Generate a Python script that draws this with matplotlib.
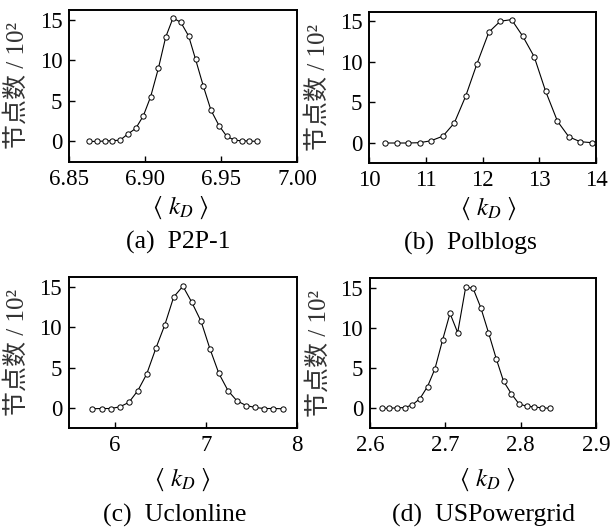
import matplotlib
matplotlib.use("Agg")
import matplotlib.pyplot as plt

plt.rcParams['font.family'] = ['Liberation Serif', 'Noto Sans CJK SC']
plt.rcParams['mathtext.fontset'] = 'stix'

# ---- data ----
a_x = [6.8632, 6.8682, 6.8733, 6.8783, 6.8834, 6.8884, 6.8937, 6.8987, 6.9035, 6.9086,
       6.9134, 6.9182, 6.9233, 6.9285, 6.9331, 6.9382, 6.9432, 6.9485, 6.9535, 6.9586,
       6.9634, 6.9684, 6.9735]
a_y = [0.0, 0.0, 0.05, 0.1, 0.15, 0.9, 1.6, 3.15, 5.5, 9.0,
       12.85, 15.2, 14.7, 13.0, 10.1, 6.8, 3.85, 1.95, 0.65, 0.15,
       0.08, 0.05, 0.0]

b_x = [10.28, 10.48, 10.69, 10.89, 11.09, 11.30, 11.50, 11.70, 11.90, 12.11,
       12.31, 12.51, 12.71, 12.91, 13.11, 13.32, 13.52, 13.72, 13.93]
b_y = [0.0, 0.0, 0.0, 0.04, 0.28, 0.85, 2.47, 5.76, 9.77, 13.66,
       15.0, 15.2, 13.13, 10.62, 6.4, 2.68, 0.77, 0.16, 0.04]

c_x = [5.755, 5.856, 5.957, 6.054, 6.155, 6.253, 6.350, 6.451, 6.549, 6.646,
       6.747, 6.845, 6.946, 7.043, 7.141, 7.242, 7.339, 7.440, 7.538, 7.639,
       7.736, 7.838]
c_y = [-0.08, -0.05, -0.05, 0.15, 0.7, 2.15, 4.2, 7.4, 10.3, 13.75,
       15.1, 13.1, 10.75, 7.35, 4.3, 2.15, 0.9, 0.32, 0.08, -0.05,
       -0.05, -0.08]

d_x = [2.6156, 2.6258, 2.6360, 2.6458, 2.6560, 2.6662, 2.6764, 2.6862, 2.6964, 2.7062,
       2.7164, 2.7271, 2.7369, 2.7471, 2.7573, 2.7676, 2.7773, 2.7876, 2.7978, 2.8080,
       2.8182, 2.8284, 2.8387]
d_y = [0.0, 0.0, 0.04, 0.08, 0.4, 1.18, 2.7, 4.9, 8.5, 11.8,
       9.4, 15.1, 14.9, 12.5, 9.4, 6.15, 3.35, 1.8, 0.53, 0.25,
       0.16, 0.04, 0.0]

a_ticks = [6.85, 6.90, 6.95, 7.00]
a_ticklabels = ['6.85', '6.90', '6.95', '7.00']
b_ticks = [10, 11, 12, 13, 14]
b_ticklabels = ['10', '11', '12', '13', '14']
c_ticks = [6, 7, 8]
c_ticklabels = ['6', '7', '8']
d_ticks = [2.6, 2.7, 2.8, 2.9]
d_ticklabels = ['2.6', '2.7', '2.8', '2.9']
y_ticks = [0, 5, 10, 15]
y_ticklabels = ['0', '5', '10', '15']

captions = ['(a)  P2P-1', '(b)  Polblogs', '(c)  Uclonline', '(d)  USPowergrid']
ylabel = '节点数 / 10²'
xlabel = r'$\langle\ k_{D}\ \rangle$'

W, H = 611, 528
fig = plt.figure(figsize=(W / 100, H / 100), dpi=100)

def px_rect(l, t, r, b):
    return [l / W, 1 - b / H, (r - l) / W, (b - t) / H]

panels = [
    (px_rect(69.3, 10, 297.3, 161.7), a_x, a_y, (6.85, 7.0), a_ticks, a_ticklabels, (180, 208), (178, 242)),
    (px_rect(369.3, 11.5, 596, 163.3), b_x, b_y, (10, 14), b_ticks, b_ticklabels, (488, 209), (470, 243)),
    (px_rect(69, 277.3, 297.3, 428.3), c_x, c_y, (5.5, 8), c_ticks, c_ticklabels, (182, 480), (175, 515)),
    (px_rect(370, 278, 596, 428.3), d_x, d_y, (2.6, 2.9), d_ticks, d_ticklabels, (487, 480), (484, 515)),
]

for i, (rect, xs, ys, xl, xt, xtl, xlab_pos, cap_pos) in enumerate(panels):
    ax = fig.add_axes(rect)
    ax.plot(xs, ys, '-', color='black', lw=0.8, marker='o', ms=3.8,
            mfc='white', mec='black', mew=0.7, clip_on=False, zorder=3)
    ax.set_xlim(*xl)
    ax.set_ylim(-2.5, 16.2)
    ax.set_xticks(xt)
    ax.set_xticklabels(xtl)
    ax.set_yticks(y_ticks)
    ax.set_yticklabels(y_ticklabels)
    ax.tick_params(direction='in', length=4, width=1.0, labelsize=16.5, pad=5,
                   top=False, right=False, colors='black')
    for s in ax.spines.values():
        s.set_linewidth(1.4)
    ax.set_ylabel(ylabel, fontsize=18, color='#333333', va='center', ha='center',
                  family=['Liberation Serif', 'Noto Sans CJK SC'])
    ax.yaxis.set_label_coords(-0.228, 0.5)
    fig.text(xlab_pos[0] / W, 1 - xlab_pos[1] / H, xlabel, fontsize=18,
             ha='center', va='center')
    fig.text(cap_pos[0] / W, 1 - cap_pos[1] / H, captions[i], fontsize=18.5,
             ha='center', va='center')

fig.savefig('out.png', dpi=100)
